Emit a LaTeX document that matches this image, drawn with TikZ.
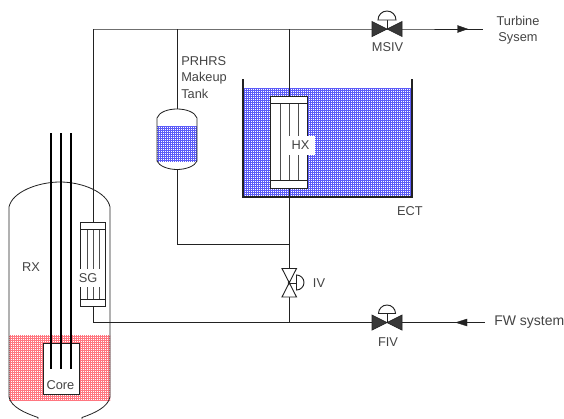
\documentclass[tikz,border=0pt]{standalone}
\usepackage{fontspec}
\setmainfont{Liberation Sans}
\usetikzlibrary{patterns,patterns.meta,arrows.meta}
\definecolor{pipe}{HTML}{222222}
\definecolor{txt}{HTML}{444444}
\definecolor{waterblue}{HTML}{5C5CF8}
\definecolor{waterred}{HTML}{FF7680}
\tikzset{
  x=0.75pt,y=-0.75pt,
  pipeline/.style={draw=pipe,line width=0.75pt},
  thin outline/.style={draw=pipe,line width=0.6pt},
  rod/.style={draw=black,line width=1.3pt},
  lbl/.style={text=txt,font=\fontsize{9.6pt}{11pt}\selectfont,inner sep=0pt},
  blue water/.style={pattern={Lines[angle=0,distance=1.5pt,line width=0.45pt]},pattern color=waterblue},
  blue water b/.style={pattern={Lines[angle=90,distance=1.5pt,line width=0.45pt]},pattern color=waterblue},
  red water/.style={pattern={Lines[angle=0,distance=1.5pt,line width=0.38pt]},pattern color=waterred},
  red water b/.style={pattern={Lines[angle=90,distance=1.5pt,line width=0.38pt]},pattern color=waterred},
  valvefill/.style={fill=pipe!90,draw=pipe,line width=0.5pt},
  valveopen/.style={fill=white,draw=pipe,line width=0.7pt},
  flow/.style={fill=pipe,draw=pipe,line width=0.3pt},
}
\begin{document}
\begin{tikzpicture}
\useasboundingbox (0,0) rectangle (564,418);
\fill[white] (0,0) rectangle (564,418);
\begin{scope}
\clip (0,0) rectangle (564,418);
% coordinates
\coordinate (tl) at (93,29);
\coordinate (tj) at (289,29);
\coordinate (msiv) at (387,29);
\coordinate (tend) at (483,29);
\coordinate (bl) at (93,322.5);
\coordinate (bj) at (289,322.5);
\coordinate (fiv) at (387,322.5);
\coordinate (fend) at (485,322.5);
\coordinate (iv) at (289,283);
\coordinate (mj) at (289,244);
\coordinate (mc) at (177,244);
\coordinate (mt) at (177,29);
% water
\foreach \s in {red water, red water b}{
  \path[\s] (9,335) rectangle (110,400);
}
\foreach \s in {blue water, blue water b}{
  \path[\s] (243,88) rectangle (412,197);
  \path[\s] (157,126) rectangle (197,161);
}
% pipes
\draw[pipeline] (bl) -- (fiv) -- (fend);
\draw[pipeline] (tl) -- (msiv) -- (tend);
\draw[pipeline] (tl) -- (93,222);
\draw[pipeline] (93,306) -- (bl);
\draw[pipeline] (tj) -- (bj);
\draw[pipeline] (mt) -- (177,109);
\draw[pipeline] (177,169.5) -- (mc) -- (mj);
% RX
\draw[thin outline] (9,207) .. controls (12,192) and (38,182) .. (60,182) .. controls (82,182) and (107,192) .. (110,207) -- (110,397) .. controls (108,407) and (95,413) .. (82,417.5) -- (82,430) -- (38,430) -- (38,417.5) .. controls (25,413) and (11,407) .. (9,397) -- cycle;
% Core
\path[fill=white] (43.5,343.5) rectangle (79.5,394);
\draw[thin outline] (43.5,343.5) rectangle (79.5,394);
\foreach \x in {51,61,71}{\draw[rod] (\x,133) -- (\x,369);}
\node[lbl,fill=white,inner xsep=1pt,inner ysep=1pt] (core) at (60.5,385) {Core};
\node[lbl] (rx) at (31,267) {RX};
% SG
\path[fill=white] (80.5,222.5) rectangle (105,306);
\foreach \x in {87,93,99.5}{\draw[thin outline,draw=pipe!80] (\x,222.5) -- (\x,306);}
\draw[thin outline,fill=white] (80.5,222.5) rectangle (105,229.5);
\draw[thin outline,fill=white] (80.5,299) rectangle (105,306);
\draw[thin outline] (80.5,222.5) rectangle (105,306);
\node[lbl,fill=white,inner xsep=2pt,inner ysep=3pt] (sg) at (88,278) {SG};
% Makeup tank
\draw[thin outline] (157,126) -- (157,118) .. controls (159,112) and (168,109) .. (177,109) .. controls (186,109) and (195,112) .. (197,118) -- (197,161) .. controls (195,166) and (186,169.5) .. (177,169.5) .. controls (168,169.5) and (159,166) .. (157,161) -- cycle;
\node[lbl,align=left,anchor=north west,text width=45pt,font=\fontsize{9.6pt}{12.4pt}\selectfont] (prhrs) at (181,56) {PRHRS\\Makeup\\Tank};
% ECT
\draw[draw=pipe,line width=0.9pt] (243,79) -- (243,197) -- (412,197) -- (412,79);
\node[lbl] (ect) at (410,211) {ECT};
% HX
\path[fill=white] (270.5,96) rectangle (307,188);
\foreach \x in {280,289,298}{\draw[draw=pipe!80,line width=0.7pt] (\x,96) -- (\x,188);}
\draw[thin outline,fill=white] (270.5,96) rectangle (307,103.5);
\draw[thin outline,fill=white] (270.5,180) rectangle (307,188);
\draw[thin outline] (270.5,96) rectangle (307,188);
\node[lbl,fill=white,inner xsep=4.5pt,inner ysep=4pt] (hx) at (300.5,145.5) {HX};
% MSIV
\draw[valvefill] (372,21.5) -- (402,36.5) -- (402,21.5) -- (372,36.5) -- cycle;
\draw[pipeline] (msiv) -- (387,20);
\draw[valveopen] (378,20) arc[start angle=180,end angle=360,radius=9] -- cycle;
\node[lbl] (msivl) at (387.5,47) {MSIV};
\draw[flow] (457.5,25.5) -- (467.5,29) -- (457.5,32.5) -- cycle;
\node[lbl,align=center,font=\fontsize{9.6pt}{12.4pt}\selectfont] (turb) at (518,30) {Turbine\\Sysem};
% FIV
\draw[valvefill] (372,315) -- (402,330) -- (402,315) -- (372,330) -- cycle;
\draw[pipeline] (fiv) -- (387,314);
\draw[valveopen] (378.5,313.5) arc[start angle=180,end angle=360,radius=8.5] -- cycle;
\node[lbl] (fivl) at (388,342) {FIV};
\draw[flow] (467,319) -- (456,322.5) -- (467,326) -- cycle;
\node[lbl,anchor=west,font=\fontsize{10.5pt}{12pt}\selectfont] (fw) at (494,322.5) {FW system};
% IV
\draw[valveopen] (282,268.5) -- (296.5,268.5) -- (282,297) -- (296.5,297) -- cycle;
\draw[pipeline] (iv) -- (298,283);
\draw[valveopen] (296.5,275) arc[start angle=-90,end angle=90,radius=7.5] -- cycle;
\fill[pipe] (iv) circle (1.3);
\node[lbl] (ivl) at (319,283) {IV};
\end{scope}
\end{tikzpicture}
\end{document}
